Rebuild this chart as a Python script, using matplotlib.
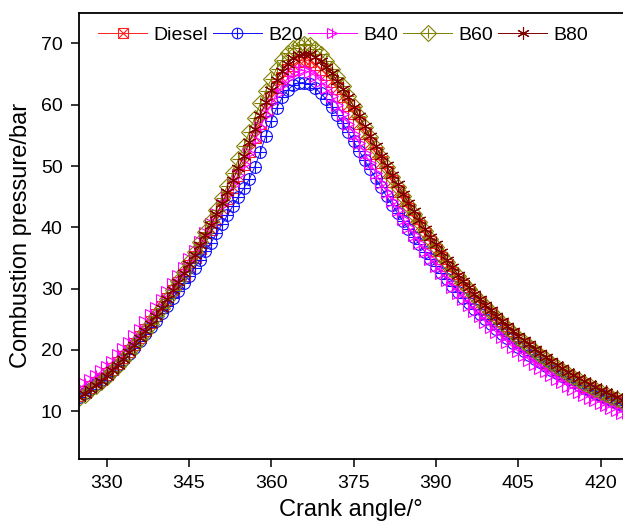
import numpy as np
import matplotlib
matplotlib.use("Agg")
import matplotlib.pyplot as plt
from matplotlib.legend_handler import HandlerTuple

plt.rcParams["font.family"] = ["Liberation Sans", "DejaVu Sans"]

# ── DATA (1° steps) ──────────────────────────────────────────────────────────
crank = np.arange(325, 425)

diesel = [12.6, 13.2, 13.9, 14.6, 15.3, 16.1, 16.9, 17.9, 18.9, 19.9,
          21.0, 22.1, 23.3, 24.5, 25.7, 27.0, 28.3, 29.6, 30.9, 32.3,
          33.7, 35.1, 36.6, 38.1, 39.7, 41.3, 43.0, 44.8, 46.6, 48.5,
          50.4, 52.5, 54.7, 57.0, 59.2, 61.2, 62.9, 64.4, 65.6, 66.5,
          67.1, 67.3, 67.1, 66.6, 65.9, 65.0, 63.9, 62.7, 61.4, 60.0,
          58.6, 57.0, 55.4, 53.8, 52.2, 50.6, 49.0, 47.5, 46.0, 44.5,
          43.0, 41.6, 40.2, 38.9, 37.6, 36.3, 35.0, 33.8, 32.6, 31.5,
          30.4, 29.4, 28.5, 27.6, 26.7, 25.8, 24.9, 24.0, 23.2, 22.4,
          21.6, 20.9, 20.2, 19.5, 18.8, 18.1, 17.5, 16.9, 16.3, 15.8,
          15.2, 14.7, 14.2, 13.8, 13.3, 12.9, 12.5, 12.1, 11.7, 11.3]

b20 = [12.4, 13.0, 13.7, 14.4, 15.1, 15.8, 16.6, 17.5, 18.4, 19.4,
       20.4, 21.5, 22.6, 23.7, 24.8, 26.0, 27.2, 28.4, 29.6, 30.9,
       32.1, 33.4, 34.7, 36.1, 37.5, 39.0, 40.5, 42.0, 43.5, 45.0,
       46.4, 47.9, 49.9, 52.3, 54.9, 57.4, 59.5, 61.2, 62.4, 63.2,
       63.6, 63.6, 63.3, 62.7, 61.9, 60.9, 59.7, 58.4, 57.0, 55.5,
       54.0, 52.5, 51.0, 49.5, 48.0, 46.5, 45.1, 43.7, 42.3, 41.0,
       39.7, 38.4, 37.2, 36.0, 34.8, 33.7, 32.6, 31.5, 30.5, 29.5,
       28.5, 27.6, 26.7, 25.8, 25.0, 24.2, 23.4, 22.6, 21.9, 21.2,
       20.5, 19.8, 19.2, 18.6, 18.0, 17.4, 16.8, 16.3, 15.8, 15.3,
       14.8, 14.3, 13.8, 13.4, 13.0, 12.6, 12.2, 11.8, 11.4, 11.0]

b40 = [13.8, 14.4, 15.1, 15.8, 16.5, 17.3, 18.1, 19.1, 20.1, 21.1,
       22.2, 23.3, 24.5, 25.7, 26.9, 28.2, 29.5, 30.8, 32.1, 33.4,
       34.8, 36.2, 37.6, 39.1, 40.6, 42.1, 43.7, 45.3, 46.9, 48.6,
       50.3, 52.2, 54.2, 56.3, 58.3, 60.2, 61.8, 63.2, 64.3, 65.1,
       65.5, 65.6, 65.3, 64.7, 63.8, 62.7, 61.4, 60.0, 58.5, 56.9,
       55.3, 53.7, 52.1, 50.5, 48.9, 47.3, 45.8, 44.3, 42.8, 41.4,
       40.0, 38.7, 37.4, 36.1, 34.9, 33.7, 32.5, 31.4, 30.3, 29.3,
       28.3, 27.3, 26.4, 25.5, 24.6, 23.7, 22.9, 22.1, 21.3, 20.5,
       19.8, 19.1, 18.4, 17.7, 17.1, 16.5, 15.9, 15.3, 14.7, 14.2,
       13.7, 13.2, 12.7, 12.2, 11.8, 11.4, 11.0, 10.6, 10.2, 9.8]

b60 = [12.1, 12.7, 13.4, 14.1, 14.8, 15.6, 16.5, 17.4, 18.4, 19.5,
       20.6, 21.8, 23.0, 24.3, 25.6, 26.9, 28.3, 29.7, 31.2, 32.7,
       34.3, 35.9, 37.6, 39.3, 41.1, 42.9, 44.8, 46.8, 48.9, 51.1,
       53.3, 55.6, 57.9, 60.2, 62.3, 64.2, 65.9, 67.3, 68.4, 69.2,
       69.7, 69.9, 69.7, 69.1, 68.3, 67.2, 65.9, 64.5, 63.0, 61.4,
       59.8, 58.1, 56.4, 54.7, 53.0, 51.4, 49.8, 48.2, 46.6, 45.1,
       43.6, 42.2, 40.8, 39.4, 38.1, 36.8, 35.5, 34.3, 33.1, 32.0,
       30.9, 29.9, 28.9, 28.0, 27.1, 26.2, 25.3, 24.4, 23.6, 22.8,
       22.0, 21.3, 20.6, 19.9, 19.2, 18.5, 17.9, 17.3, 16.7, 16.1,
       15.6, 15.1, 14.6, 14.1, 13.6, 13.2, 12.8, 12.4, 12.0, 11.6]

b80 = [12.3, 12.9, 13.6, 14.3, 15.0, 15.8, 16.7, 17.6, 18.6, 19.7,
       20.8, 21.9, 23.1, 24.3, 25.6, 26.9, 28.3, 29.7, 31.1, 32.5,
       34.0, 35.5, 37.1, 38.7, 40.4, 42.1, 43.9, 45.8, 47.7, 49.7,
       51.7, 53.9, 56.1, 58.3, 60.4, 62.4, 64.1, 65.5, 66.7, 67.6,
       68.1, 68.3, 68.2, 67.8, 67.1, 66.2, 65.1, 63.9, 62.6, 61.2,
       59.7, 58.1, 56.5, 54.9, 53.3, 51.7, 50.1, 48.5, 47.0, 45.5,
       44.0, 42.6, 41.2, 39.8, 38.5, 37.2, 35.9, 34.7, 33.5, 32.3,
       31.2, 30.2, 29.2, 28.3, 27.4, 26.5, 25.6, 24.7, 23.9, 23.1,
       22.3, 21.6, 20.9, 20.2, 19.5, 18.8, 18.2, 17.6, 17.0, 16.4,
       15.9, 15.4, 14.9, 14.4, 13.9, 13.5, 13.1, 12.7, 12.3, 11.9]

labels = ["Diesel", "B20", "B40", "B60", "B80"]
series = [diesel, b20, b40, b60, b80]
colors = ["#ff2020", "#1010ff", "#ff00ff", "#808000", "#800000"]
# base marker + overlay marker, to get the ⊠ ⊕ ▷| ◇+ ✳ looks
base_mk = ["s", "o", ">", "D", (6, 2, 0)]
over_mk = ["x", "+", "|", "+", None]

# ── PLOT ─────────────────────────────────────────────────────────────────────
fig = plt.figure(figsize=(6.23, 5.21), dpi=100)
ax = fig.add_axes([0.1273, 0.1196, 0.8727, 0.856])

handles = []
for lab, ys, c, bm, om in zip(labels, series, colors, base_mk, over_mk):
    ms = 10 if om is None else 8.5
    l1, = ax.plot(crank, ys, color=c, lw=0.7, marker=bm, markersize=ms,
                  markerfacecolor="none", markeredgecolor=c, markeredgewidth=0.8)
    if om is not None:
        l2, = ax.plot(crank, ys, ls="none", marker=om, markersize=ms,
                      markeredgecolor=c, markeredgewidth=0.8)
        handles.append((l1, l2))
    else:
        handles.append((l1,))

ax.set_xlim(325.0, 424.1)
ax.set_ylim(2.27, 75.0)
ax.set_xticks([330, 345, 360, 375, 390, 405, 420])
ax.set_yticks([10, 20, 30, 40, 50, 60, 70])
ax.tick_params(direction="out", length=6, width=1.1, labelsize=14, pad=6)
for s in ["left", "top", "bottom"]:
    ax.spines[s].set_linewidth(1.3)
ax.spines["right"].set_visible(False)

ax.set_xlabel("Crank angle/°", fontsize=17, labelpad=5)
ax.set_ylabel("Combustion pressure/bar", fontsize=17, labelpad=6)

ax.legend(handles, labels, handler_map={tuple: HandlerTuple(ndivide=1)},
          loc="upper left", bbox_to_anchor=(0.01, 1.0), ncol=5, frameon=False,
          fontsize=14, handlelength=2.5, handletextpad=0.35, columnspacing=0.25,
          borderaxespad=0.3, markerscale=0.9)

fig.savefig("out.png", dpi=100)
